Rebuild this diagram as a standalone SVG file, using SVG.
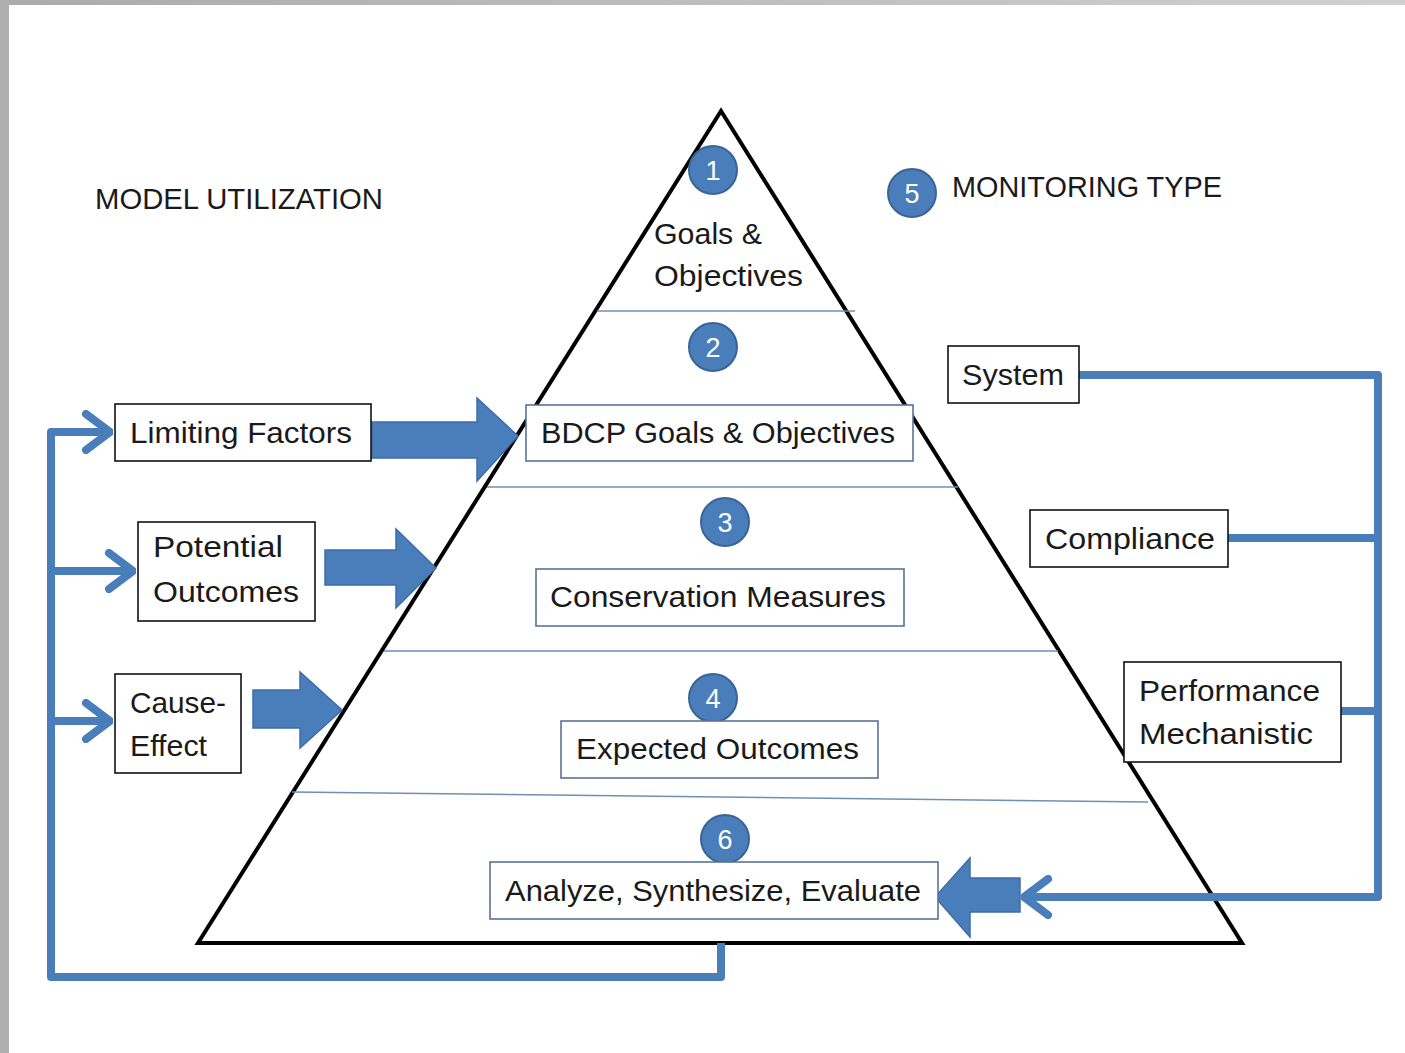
<svg xmlns="http://www.w3.org/2000/svg" width="1405" height="1053" viewBox="0 0 1405 1053">
<defs>
<linearGradient id="topbar" x1="0" y1="0" x2="1" y2="0">
<stop offset="0" stop-color="#ababab"/>
<stop offset="1" stop-color="#d0d0d0"/>
</linearGradient>
<marker id="chev" viewBox="0 0 32 44" refX="29" refY="22" markerWidth="32" markerHeight="44" markerUnits="userSpaceOnUse" orient="auto">
<path d="M5,4 L29,22 L5,40" fill="none" stroke="#4a7ebb" stroke-width="8" stroke-linecap="round" stroke-linejoin="round"/>
</marker>
</defs>
<style>
text{font-family:"Liberation Sans",Arial,sans-serif;fill:#1a1a1a;}
.lbl{font-size:29px;}
.num{font-size:27px;fill:#ffffff;text-anchor:middle;}
.obox{fill:#ffffff;stroke:#111111;stroke-width:1.6;}
.ibox{fill:#ffffff;stroke:#5a7298;stroke-width:1.6;}
.circ{fill:#4a7ebb;stroke:#3a6497;stroke-width:2;}
.band{stroke:#6f8fb5;stroke-width:1.6;fill:none;}
.conn{fill:none;stroke:#4a7ebb;stroke-width:8;stroke-linejoin:round;}
.blk{fill:#4a7ebb;stroke:#3e6ea8;stroke-width:1.5;}
</style>
<rect width="1405" height="1053" fill="#ffffff"/>
<rect x="0" y="0" width="1405" height="5" fill="url(#topbar)"/>
<rect x="0" y="0" width="9" height="1053" fill="#aeaeae"/>

<g id="pyramid">
<polygon points="721,111 198,943 1242,943" fill="#ffffff" stroke="#000000" stroke-width="4" stroke-linejoin="miter"/>
<line class="band" x1="597" y1="311" x2="855" y2="311"/>
<line class="band" x1="487" y1="487" x2="958" y2="487"/>
<line class="band" x1="384" y1="651" x2="1058" y2="651"/>
<line class="band" x1="292" y1="792" x2="1148" y2="802"/>
</g>

<g id="connectors">
<path class="conn" d="M1079,375 H1378 V897 H1024" marker-end="url(#chev)"/>
<path class="conn" d="M1228,538 H1378"/>
<path class="conn" d="M1341,711 H1378"/>
<path class="conn" d="M721,943 V977 H51 V432 H110" marker-end="url(#chev)"/>
<path class="conn" d="M51,571 H133" marker-end="url(#chev)"/>
<path class="conn" d="M51,721 H110" marker-end="url(#chev)"/>
<polygon class="blk" points="372,422 477,422 477,398 518,436 477,481 477,458 372,458"/>
<polygon class="blk" points="325,550 396,550 396,529 436,568 396,608 396,585 325,585"/>
<polygon class="blk" points="253,690 300,690 300,672 342,710 300,748 300,728 253,728"/>
<polygon class="blk" points="1020,878 970,878 970,858 935,897 970,937 970,912 1020,912"/>
</g>

<g id="title-model"><text class="lbl" x="95" y="209" textLength="288" lengthAdjust="spacingAndGlyphs">MODEL UTILIZATION</text></g>
<g id="title-monitoring">
<circle class="circ" cx="912" cy="193" r="24"/>
<text class="num" x="912" y="203">5</text>
<text class="lbl" x="952" y="197" textLength="270" lengthAdjust="spacingAndGlyphs">MONITORING TYPE</text>
</g>

<g id="level1">
<circle class="circ" cx="713" cy="170" r="24"/>
<text class="num" x="713" y="180">1</text>
<text class="lbl" x="654" y="244" textLength="108" lengthAdjust="spacingAndGlyphs">Goals &amp;</text>
<text class="lbl" x="654" y="286" textLength="149" lengthAdjust="spacingAndGlyphs">Objectives</text>
</g>
<g id="level2">
<circle class="circ" cx="713" cy="347" r="24"/>
<text class="num" x="713" y="357">2</text>
<rect class="ibox" x="526" y="405" width="387" height="56"/>
<text class="lbl" x="541" y="443" textLength="354" lengthAdjust="spacingAndGlyphs">BDCP Goals &amp; Objectives</text>
</g>
<g id="level3">
<circle class="circ" cx="725" cy="522" r="24"/>
<text class="num" x="725" y="532">3</text>
<rect class="ibox" x="536" y="569" width="368" height="57"/>
<text class="lbl" x="550" y="607" textLength="336" lengthAdjust="spacingAndGlyphs">Conservation Measures</text>
</g>
<g id="level4">
<circle class="circ" cx="713" cy="698" r="24"/>
<text class="num" x="713" y="708">4</text>
<rect class="ibox" x="561" y="721" width="317" height="57"/>
<text class="lbl" x="576" y="759" textLength="283" lengthAdjust="spacingAndGlyphs">Expected Outcomes</text>
</g>
<g id="level6">
<circle class="circ" cx="725" cy="839" r="24"/>
<text class="num" x="725" y="849">6</text>
<rect class="ibox" x="490" y="862" width="448" height="57"/>
<text class="lbl" x="505" y="901" textLength="416" lengthAdjust="spacingAndGlyphs">Analyze, Synthesize, Evaluate</text>
</g>

<g id="limiting-factors">
<rect class="obox" x="115" y="404" width="256" height="57"/>
<text class="lbl" x="130" y="443" textLength="222" lengthAdjust="spacingAndGlyphs">Limiting Factors</text>
</g>
<g id="potential-outcomes">
<rect class="obox" x="138" y="522" width="177" height="99"/>
<text class="lbl" x="153" y="557" textLength="130" lengthAdjust="spacingAndGlyphs">Potential</text>
<text class="lbl" x="153" y="602" textLength="146" lengthAdjust="spacingAndGlyphs">Outcomes</text>
</g>
<g id="cause-effect">
<rect class="obox" x="115" y="674" width="126" height="99"/>
<text class="lbl" x="130" y="713" textLength="96" lengthAdjust="spacingAndGlyphs">Cause-</text>
<text class="lbl" x="130" y="756" textLength="77" lengthAdjust="spacingAndGlyphs">Effect</text>
</g>
<g id="system">
<rect class="obox" x="948" y="346" width="131" height="57"/>
<text class="lbl" x="962" y="385" textLength="102" lengthAdjust="spacingAndGlyphs">System</text>
</g>
<g id="compliance">
<rect class="obox" x="1030" y="510" width="198" height="57"/>
<text class="lbl" x="1045" y="549" textLength="170" lengthAdjust="spacingAndGlyphs">Compliance</text>
</g>
<g id="performance">
<rect class="obox" x="1124" y="662" width="217" height="100"/>
<text class="lbl" x="1139" y="701" textLength="181" lengthAdjust="spacingAndGlyphs">Performance</text>
<text class="lbl" x="1139" y="744" textLength="174" lengthAdjust="spacingAndGlyphs">Mechanistic</text>
</g>
</svg>
